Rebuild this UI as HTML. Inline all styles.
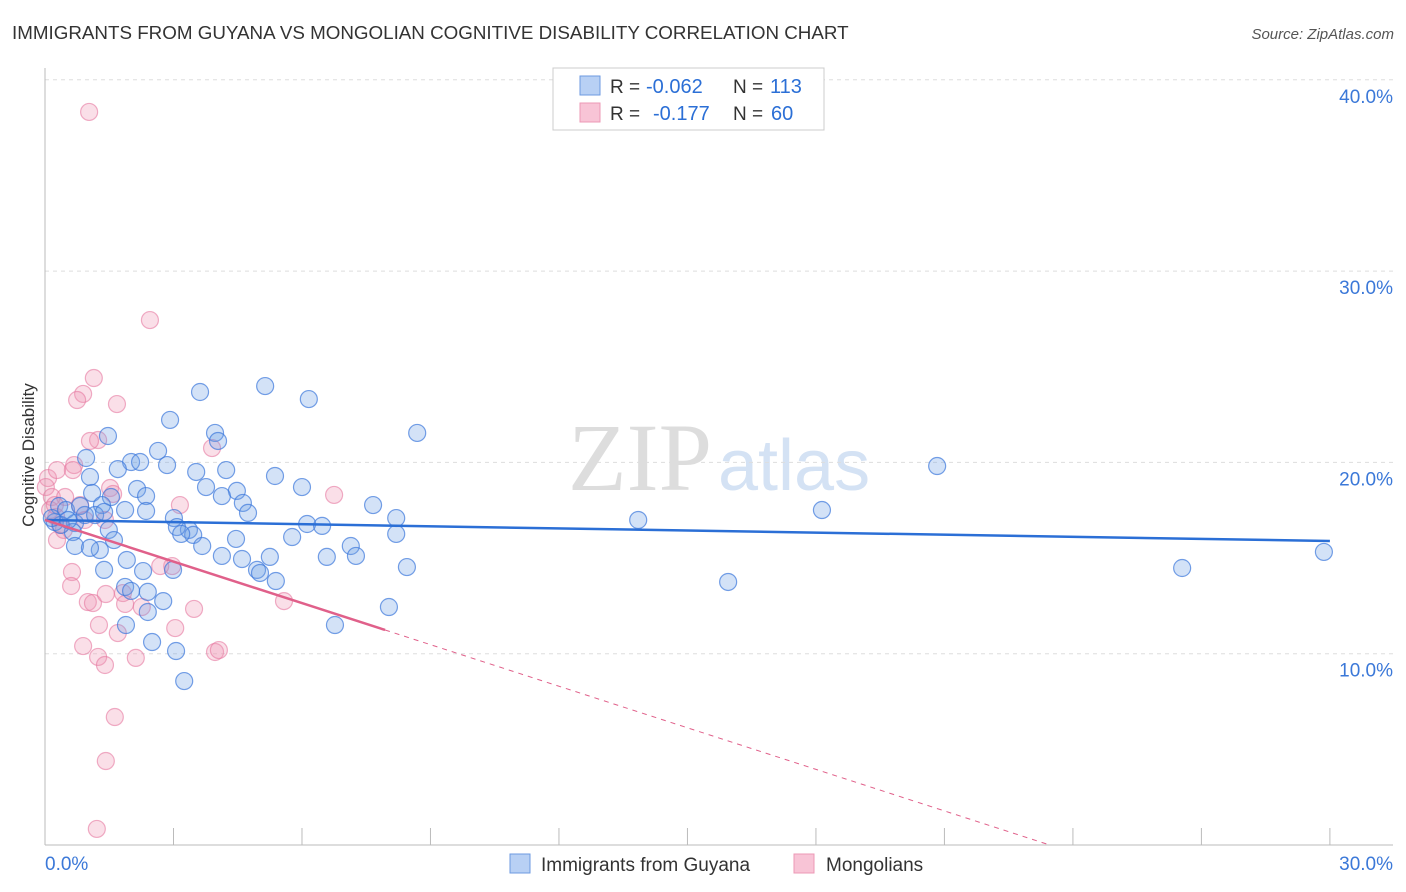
<!DOCTYPE html>
<html><head><meta charset="utf-8"><style>
body{margin:0;background:#fff;font-family:"Liberation Sans",sans-serif;}
svg{display:block}
</style></head><body>
<svg id="chart" width="1406" height="892" xmlns="http://www.w3.org/2000/svg">
<text x="12" y="39" font-size="18.8" fill="#333">IMMIGRANTS FROM GUYANA VS MONGOLIAN COGNITIVE DISABILITY CORRELATION CHART</text>
<text x="1394" y="39" font-size="15" fill="#555" text-anchor="end" font-style="italic">Source: ZipAtlas.com</text>
<text x="712" y="490" font-size="96" fill="#ddd" text-anchor="end" font-family="Liberation Serif">ZIP</text>
<text x="718" y="490" font-size="72" fill="#d4e2f4">atlas</text>
<text transform="translate(34,455) rotate(-90)" font-size="17" fill="#333" text-anchor="middle">Cognitive Disability</text>
<g id="grid"></g><g id="pts"></g><g id="lines"></g>
<g>
<rect x="553" y="68" width="271" height="62" fill="#fff" stroke="#ccc"/>
<rect x="580" y="76" width="20" height="19" fill="#b8d0f4" stroke="#6c9ae0"/>
<rect x="580" y="103" width="20" height="19" fill="#f8c4d6" stroke="#ec98b6"/>
<text x="610" y="93" font-size="19" fill="#333">R =</text>
<text x="646" y="93" font-size="20" fill="#2b6fd6">-0.062</text>
<text x="733" y="93" font-size="19" fill="#333">N =</text>
<text x="770" y="93" font-size="20" fill="#2b6fd6">113</text>
<text x="610" y="120" font-size="19" fill="#333">R =</text>
<text x="653" y="120" font-size="20" fill="#2b6fd6">-0.177</text>
<text x="733" y="120" font-size="19" fill="#333">N =</text>
<text x="771" y="120" font-size="20" fill="#2b6fd6">60</text>
</g>
<g>
<rect x="510" y="854" width="20" height="19" fill="#b8d0f4" stroke="#6c9ae0"/>
<text x="541" y="871" font-size="19" fill="#333">Immigrants from Guyana</text>
<rect x="794" y="854" width="20" height="19" fill="#f8c4d6" stroke="#ec98b6"/>
<text x="826" y="871" font-size="19" fill="#333">Mongolians</text>
</g>
</svg>
<script>
const yTicks=[10,20,30,40];
const yTickLabels=["10.0%","20.0%","30.0%","40.0%"];
const xLabels=["0.0%","30.0%"];
const blueX=[3.62,5.14,6.16,2.92,8.69,1.47,3.97,4.04,2.64,0.96,2.01,2.85,2.22,4.23,3.53,20.83,1.05,5.37,1.70,3.76,2.15,6.00,4.48,1.10,2.36,4.13,1.54,4.62,0.33,1.33,1.87,2.36,4.74,7.66,18.14,0.49,0.82,8.20,13.85,6.12,6.47,0.23,0.70,3.01,3.36,3.08,3.46,3.18,8.20,0.65,1.49,5.77,4.46,1.61,3.67,7.14,0.70,1.28,5.25,4.13,6.58,7.26,4.60,1.91,29.86,1.38,2.29,2.99,4.95,5.02,8.45,26.55,15.95,5.39,1.87,2.01,2.40,2.76,8.03,2.40,1.89,6.77,2.50,3.06,3.25,0.37,0.16,0.54,0.93,1.17,1.38,1.05];
const blueY=[23.68,23.99,23.31,22.22,21.54,21.38,21.54,21.12,20.60,20.23,20.02,19.86,20.02,19.60,19.50,19.81,19.24,19.29,19.65,18.71,18.61,18.71,18.51,18.40,18.24,18.24,18.19,17.88,17.72,17.77,17.51,17.46,17.36,17.77,17.51,17.51,17.72,17.09,16.99,16.78,16.68,16.88,16.83,17.09,16.47,16.62,16.21,16.26,16.26,16.36,16.47,16.10,16.00,15.94,15.63,15.63,15.63,15.42,15.06,15.11,15.06,15.11,14.95,14.90,15.32,14.38,14.32,14.38,14.38,14.22,14.53,14.48,13.75,13.80,13.49,13.28,13.23,12.75,12.44,12.18,11.50,11.50,10.61,10.14,8.57,16.73,17.09,16.99,17.25,17.25,17.41,15.53];
const pinkX=[1.03,2.45,1.14,0.89,0.75,1.68,1.24,1.05,3.90,0.68,0.65,0.07,0.28,0.02,0.16,0.47,0.82,1.52,1.59,3.15,6.75,0.26,0.35,0.28,0.44,0.93,1.40,0.63,2.97,2.69,1.82,1.00,1.12,0.61,1.42,1.87,3.48,5.58,2.26,1.26,1.70,3.04,0.89,1.24,1.40,2.12,3.97,4.06,1.63,1.42,1.21,0.12,0.23];
const pinkY=[38.32,27.44,24.41,23.58,23.26,23.05,21.17,21.12,20.75,19.86,19.60,19.18,19.60,18.71,18.19,18.19,17.77,18.66,18.35,17.77,18.30,17.15,16.73,15.94,16.47,16.99,16.99,14.27,14.58,14.58,13.17,12.70,12.65,13.54,13.12,12.60,12.34,12.75,12.44,11.50,11.08,11.34,10.40,9.83,9.41,9.78,10.09,10.19,6.69,4.39,0.84,17.51,17.77];
const blueTrend=[0,16.99,30,15.89];
const pinkTrend=[0,16.99,7.94,11.24,23.46,0];
const NS="http://www.w3.org/2000/svg";
const X=v=>45+v*42.83, Y=v=>845-v*19.13;
function mk(t,a,p){const e=document.createElementNS(NS,t);for(const k in a)e.setAttribute(k,a[k]);p.appendChild(e);return e;}
const grid=document.getElementById('grid');
yTicks.forEach((t,i)=>{
 const l=mk('line',{x1:45,x2:1393,y1:Y(t),y2:Y(t),stroke:'#ddd','stroke-dasharray':'4,4'},grid);
 
 
 const tx=mk('text',{x:1393,y:Y(t)+23,'font-size':19,fill:'#3b78d8','text-anchor':'end'},grid);
 tx.textContent=yTickLabels[i];
 
 
});
const ax=mk('line',{x1:45,x2:45,y1:68,y2:845,stroke:'#bbb'},grid);


const bx=mk('line',{x1:45,x2:1393,y1:845,y2:845,stroke:'#bbb'},grid);


for(let i=0;i<=10;i++){const t=mk('line',{x1:X(i*3),x2:X(i*3),y1:828,y2:845,stroke:'#bbb'},grid);
 
 }
[[0,'start',45],[30,'end',1393]].forEach((d,i)=>{const t=mk('text',{x:d[2],y:870,'font-size':19,fill:'#3b78d8','text-anchor':d[1]},grid);t.textContent=xLabels[i];
 
 });
const pts=document.getElementById('pts');
pinkX.forEach((x,i)=>{const c=mk('circle',{cx:X(x),cy:Y(pinkY[i]),r:8.5,fill:'rgba(240,150,180,0.3)',stroke:'rgba(230,120,160,0.6)','stroke-width':1.2},pts);
 
 });
blueX.forEach((x,i)=>{const c=mk('circle',{cx:X(x),cy:Y(blueY[i]),r:8.5,fill:'rgba(110,160,230,0.3)',stroke:'rgba(60,120,220,0.7)','stroke-width':1.2},pts);
 
 });
const lines=document.getElementById('lines');
const b=mk('line',{x1:X(blueTrend[0]),y1:Y(blueTrend[1]),x2:X(blueTrend[2]),y2:Y(blueTrend[3]),stroke:'#2b6fd6','stroke-width':2.5},lines);


const p=mk('line',{x1:X(pinkTrend[0]),y1:Y(pinkTrend[1]),x2:X(pinkTrend[2]),y2:Y(pinkTrend[3]),stroke:'#e0608a','stroke-width':2.5},lines);


const pd=mk('line',{x1:X(pinkTrend[2]),y1:Y(pinkTrend[3]),x2:X(pinkTrend[4]),y2:Y(pinkTrend[5]),stroke:'#e0608a','stroke-width':1,'stroke-dasharray':'5,5'},lines);


</script>
</body></html>
